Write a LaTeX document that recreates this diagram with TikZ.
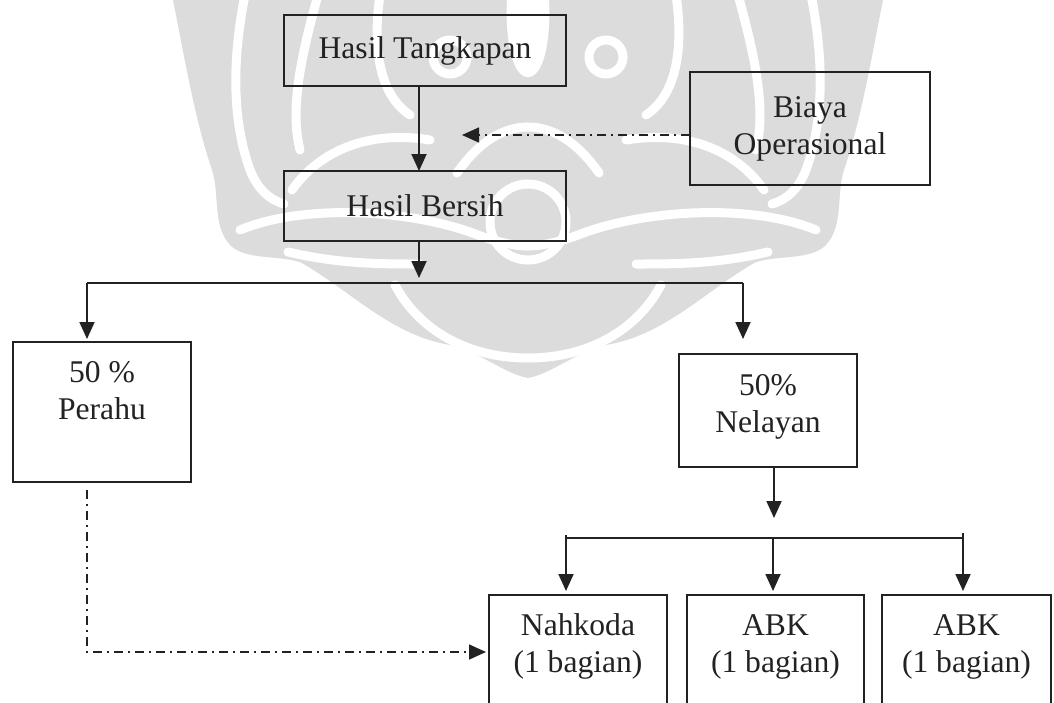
\documentclass[tikz,border=0pt]{standalone}
\usepackage{fontspec}
\setmainfont{Liberation Serif}
\usetikzlibrary{arrows.meta}

\definecolor{ink}{HTML}{222222}
\definecolor{wmark}{HTML}{DCDCDC}

\tikzset{
  base/.style={line width=1.8pt, draw=ink},
  box/.style={base, rectangle, inner sep=0pt, outer sep=0pt, align=center,
              font=\fontsize{31.6}{37}\selectfont, text=ink},
  txt/.style={inner sep=0pt, outer sep=0pt, align=center,
              font=\fontsize{31.6}{37}\selectfont, text=ink, anchor=base},
  tip/.style={-{Triangle[width=15pt,length=17pt]}},
  flow/.style={base, tip},
  bus/.style={base},
  dashdot/.style={base, line width=1.6pt, dash pattern=on 9pt off 5pt on 2pt off 5pt},
  wmfill/.style={fill=wmark},
  wmgap/.style={draw=white, line width=9pt, line cap=round},
}

% one half of the symmetric background ornament (axis at x = 528)
\newcommand{\ornamenthalf}{%
  \fill[wmfill] (528,0) -- (173,0)
    .. controls (185,60) and (195,120) .. (212,170)
    .. controls (220,195) and (212,225) .. (230,245)
    .. controls (245,260) and (275,255) .. (300,262)
    .. controls (350,290) and (390,335) .. (450,345)
    .. controls (480,352) and (505,374) .. (528,378) -- cycle;
  % separations inside the ornament
  \draw[wmgap] (245,-5) .. controls (232,60) and (232,120) .. (250,170)
    .. controls (258,190) and (270,200) .. (284,204);
  \draw[wmgap] (318,-5) .. controls (300,60) and (290,110) .. (300,150);
  \draw[wmgap] (380,-5) .. controls (372,50) and (380,95) .. (410,115);
  \draw[wmgap] (292,190) .. controls (320,150) and (370,130) .. (430,140);
  \draw[wmgap] (240,230) .. controls (300,205) and (400,208) .. (470,232)
    .. controls (495,242) and (515,246) .. (528,246);
  \draw[wmgap] (288,252) .. controls (340,264) and (380,264) .. (420,264);
  \draw[wmgap] (457,173) .. controls (480,140) and (505,127) .. (528,127);
  \draw[wmgap] (395,285) .. controls (420,332) and (470,358) .. (528,358);
  \draw[wmgap] (528,260) arc[start angle=90, end angle=270, radius=38];
  \draw[wmgap] (450,57) circle[radius=17];
  \fill[white] (507,-1) .. controls (505,40) and (512,77) .. (528,77) -- (528,-1) -- cycle;
}

\begin{document}
\begin{tikzpicture}[x=1pt, y=-1pt]
  \useasboundingbox (0,0) rectangle (1054,702);
  \clip (0,0) rectangle (1054,702);

  % background ornament
  \begin{scope}
    \ornamenthalf
  \end{scope}
  \begin{scope}[shift={(1056,0)}, xscale=-1]
    \ornamenthalf
  \end{scope}

  % boxes
  \node[box, minimum width=282pt, minimum height=71pt] (ht) at (425,50.5) {Hasil Tangkapan};
  \node[box, minimum width=282pt, minimum height=70pt] (hb) at (425,206) {Hasil Bersih};
  \node[box, minimum width=240pt, minimum height=113pt] (biaya) at (810,128.5) {Biaya\\Operasional};

  \node[box, minimum width=178pt, minimum height=140pt] (perahu) at (102,412) {};
  \node[txt] (perahuT) at (102,419) {50 \%\\Perahu};

  \node[box, minimum width=178pt, minimum height=113pt] (nelayan) at (768,410.5) {};
  \node[txt] (nelayanT) at (768,432) {50\%\\Nelayan};

  \node[box, minimum width=178pt, minimum height=140pt] (nahkoda) at (578,665) {};
  \node[txt] (nahkodaT) at (578,672) {Nahkoda\\(1 bagian)};

  \node[box, minimum width=177pt, minimum height=140pt] (abk1) at (775.5,665) {};
  \node[txt] (abk1T) at (775.5,672) {ABK\\(1 bagian)};

  \node[box, minimum width=169pt, minimum height=140pt] (abk2) at (966.5,665) {};
  \node[txt] (abk2T) at (966.5,672) {ABK\\(1 bagian)};

  % main flow
  \draw[flow] ([xshift=-6pt]ht.south) -- ([xshift=-6pt]hb.north);

  % operating costs, deducted
  \coordinate (opin) at (462,135);
  \draw[dashdot, tip] (opin -| biaya.west) -- (opin);

  % first split: boat / fishermen
  \coordinate (split1) at (419,278);
  \draw[flow] ([xshift=-6pt]hb.south) -- (split1);
  \coordinate (busL) at (87,283);
  \coordinate (busR) at (743,283);
  \draw[bus] (busL) -- (busR);
  \draw[flow, shorten >=3pt] (busL) -- (busL |- perahu.north);
  \draw[flow, shorten >=15pt] (busR) -- (busR |- nelayan.north);

  % second split: crew shares
  \coordinate (split2) at (774,518);
  \draw[flow] ([xshift=6pt]nelayan.south) -- (split2);
  \coordinate (crewL) at (566,538);
  \coordinate (crewM) at (773,538);
  \coordinate (crewR) at (963,538);
  \draw[bus] (crewL) -- (crewR);
  \draw[flow, shorten >=4pt] ([yshift=3pt]crewL) -- (crewL |- nahkoda.north);
  \draw[flow, shorten >=4pt] (crewM) -- (crewM |- abk1.north);
  \draw[flow, shorten >=4pt] ([yshift=5pt]crewR) -- (crewR |- abk2.north);

  % boat share to the skipper
  \coordinate (pcorner) at (87,652);
  \draw[dashdot, tip, shorten <=8pt, shorten >=3pt]
    (perahu.south -| pcorner) -- (pcorner) -- (pcorner -| nahkoda.west);
\end{tikzpicture}
\end{document}
